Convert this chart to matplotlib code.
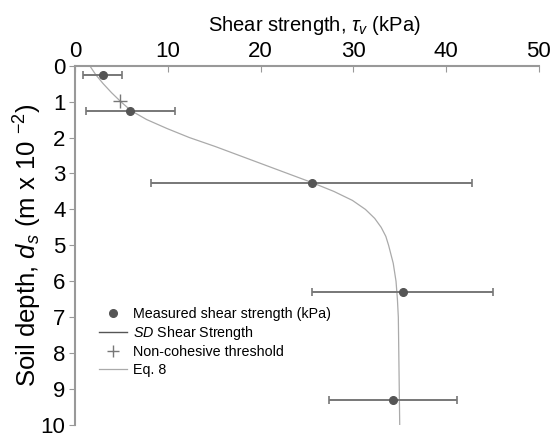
import matplotlib
matplotlib.use("Agg")
import matplotlib.pyplot as plt
from matplotlib.lines import Line2D

plt.rcParams['font.family'] = ['Liberation Sans', 'DejaVu Sans']
plt.rcParams['mathtext.fontset'] = 'custom'
plt.rcParams['mathtext.rm'] = 'Liberation Sans'
plt.rcParams['mathtext.it'] = 'Liberation Sans:italic'

# Measured shear strength (kPa) vs depth
meas_depth = [0.26, 1.26, 3.26, 6.29, 9.31]
meas_tau = [2.95, 5.9, 25.5, 35.3, 34.3]
meas_sd = [2.1, 4.8, 17.3, 9.8, 6.9]

# Non-cohesive threshold
thr_depth = [0.99]
thr_tau = [4.86]

# Eq. 8 curve
eq_depth = [0.0, 0.25, 0.5, 0.75, 1.0, 1.25, 1.5, 1.75, 2.0, 2.25, 2.5, 2.75,
            3.0, 3.25, 3.5, 3.75, 4.0, 4.25, 4.5, 4.75, 5.0, 5.5, 6.0, 6.5,
            7.0, 8.0, 9.0, 10.0]
eq_tau = [1.55, 2.2, 3.0, 3.9, 4.9, 6.0, 7.7, 9.9, 12.3, 15.1, 17.7, 20.3,
          22.9, 25.5, 27.9, 29.9, 31.3, 32.3, 33.0, 33.5, 33.8, 34.3, 34.6, 34.75,
          34.85, 34.9, 34.95, 35.0]

x_ticks = [0, 10, 20, 30, 40, 50]
y_ticks = list(range(0, 11))

fig = plt.figure(figsize=(5.58, 4.37), dpi=100)
ax = fig.add_axes([0.135, 0.0275, 0.8305, 0.8222])

ax.plot(eq_tau, eq_depth, color='#aaaaaa', lw=0.9, zorder=2)
ax.errorbar(meas_tau, meas_depth, xerr=meas_sd, fmt='none', ecolor='#777777',
            elinewidth=1.4, capsize=3, capthick=1.2, zorder=3)
ax.plot(meas_tau, meas_depth, 'o', color='#555555', ms=5.5, zorder=4)
ax.plot(thr_tau, thr_depth, '+', color='#777777', ms=10, mew=1.0, zorder=4)

ax.set_xlim(0, 50)
ax.set_ylim(10, 0)
ax.set_xticks(x_ticks)
ax.set_yticks(y_ticks)
ax.xaxis.tick_top()
ax.xaxis.set_label_position('top')
for s in ['right', 'bottom']:
    ax.spines[s].set_visible(False)
for s in ['top', 'left']:
    ax.spines[s].set_color('#999999')
    ax.spines[s].set_linewidth(1.5)
ax.tick_params(axis='x', direction='in', length=4, color='#999999', labelsize=16, pad=3)
ax.tick_params(axis='y', direction='out', length=4, color='#999999', labelsize=16, pad=3)

ax.set_xlabel(r'Shear strength, $\tau_v$ (kPa)', fontsize=14.5)
ax.xaxis.set_label_coords(0.515, 1.097)
ax.set_ylabel(r'Soil depth, $d_s$ (m x 10 $^{-2}$)', fontsize=18.5)
ax.yaxis.set_label_coords(-0.068, 0.5)

handles = [
    Line2D([], [], ls='none', marker='o', color='#555555', ms=5.5),
    Line2D([], [], color='#555555', lw=1.0),
    Line2D([], [], ls='none', marker='+', color='#777777', ms=9, mew=1.0),
    Line2D([], [], color='#aaaaaa', lw=0.9),
]
labels = ['Measured shear strength (kPa)', r'$\it{SD}$ Shear Strength',
          'Non-cohesive threshold', 'Eq. 8']
ax.legend(handles, labels, loc='upper left', bbox_to_anchor=(0.05, 0.328),
          frameon=False, fontsize=10.3, borderaxespad=0, borderpad=0,
          handlelength=2.0, handletextpad=0.4, labelspacing=0.22)

fig.savefig('out.png', dpi=100)
